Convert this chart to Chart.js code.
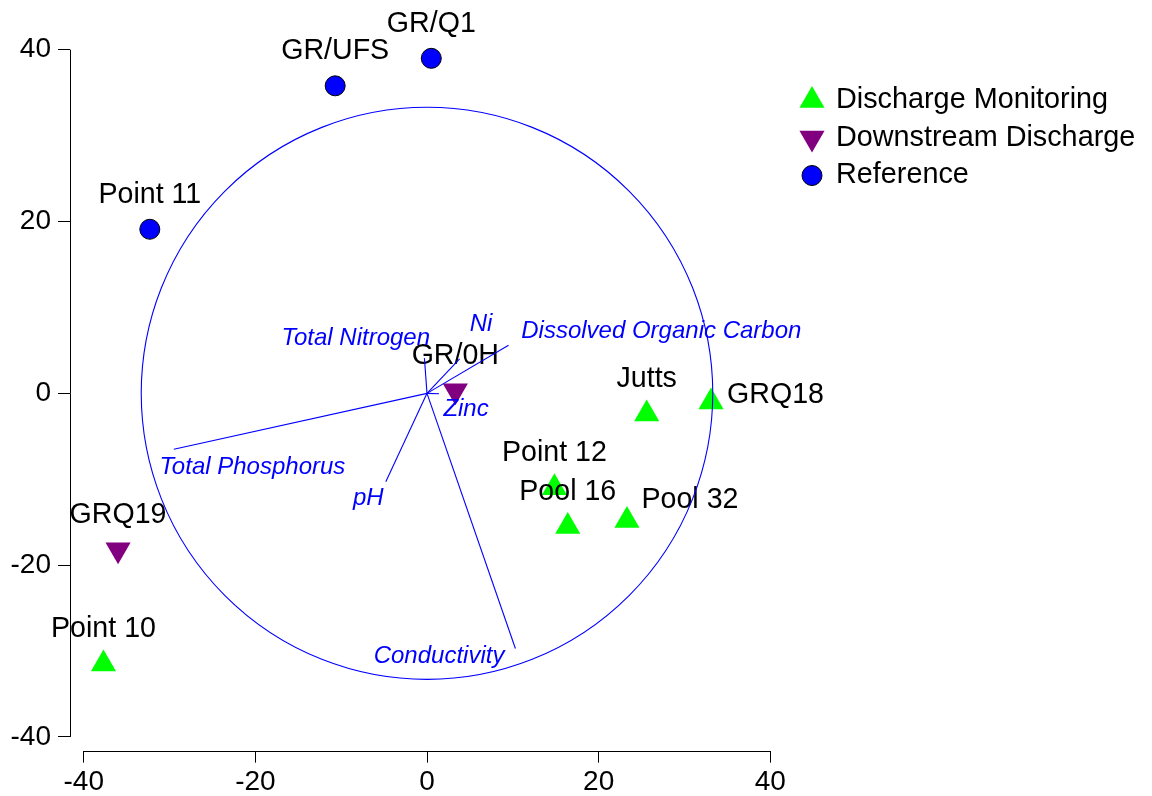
<!DOCTYPE html>
<html>
<head>
<meta charset="utf-8">
<script src="https://cdn.jsdelivr.net/npm/chart.js@4.4.1/dist/chart.umd.min.js"></script>
<style>
  html, body { margin: 0; padding: 0; background: #fff; }
</style>
</head>
<body>
<canvas id="ord" width="1152" height="796"></canvas>
<script>
// axis ticks
const xTicks = [-40, -20, 0, 20, 40];
const yTicks = [-40, -20, 0, 20, 40];

// site scores, by group
const groups = ['Discharge Monitoring', 'Downstream Discharge', 'Reference'];

const dmSites = ['Point 10', 'Point 12', 'Pool 16', 'Pool 32', 'Jutts', 'GRQ18'];
const dmX = [-37.7, 14.85, 16.4, 23.3, 25.6, 33.1];
const dmY = [-31.5, -11.0, -15.5, -14.8, -2.4, -1.0];

const ddSites = ['GRQ19', 'GR/0H'];
const ddX = [-36.0, 3.3];
const ddY = [-18.2, 0.3];

const refSites = ['Point 11', 'GR/UFS', 'GR/Q1'];
const refX = [-32.3, -10.7, 0.5];
const refY = [19.1, 35.8, 39.0];

// fitted environmental vectors (arrow tips)
const envNames = ['Total Nitrogen', 'Ni', 'Dissolved Organic Carbon', 'Zinc', 'Total Phosphorus', 'pH', 'Conductivity'];
const envX = [-0.3, 3.8, 9.5, 1.4, -29.5, -4.8, 10.3];
const envY = [4.1, 4.0, 5.6, -0.05, -6.5, -10.3, -29.7];

const circleR = 33.3;

const FONT = '"Liberation Sans", Arial, Helvetica, sans-serif';
Chart.defaults.font.family = FONT;

function pts(xs, ys) {
  return xs.map((x, i) => ({ x: x, y: ys[i] }));
}

// where the env labels sit (data units, text centre / baseline)
const envLabelAt = {
  'Total Nitrogen': [-8.3, 5.6],
  'Ni': [6.3, 7.3],
  'Dissolved Organic Carbon': [27.3, 6.45],
  'Zinc': [4.55, -2.6],
  'Total Phosphorus': [-20.35, -9.4],
  'pH': [-6.85, -13.0],
  'Conductivity': [1.4, -31.4]
};

// site label offsets (px); default is centred above the mark
const siteLabelOffset = {
  'GRQ18': { dx: 16, dy: 1, align: 'left' },
  'Pool 32': { dx: 14.5, dy: -12, align: 'left' }
};

const siteLabels = {
  id: 'siteLabels',
  afterDatasetDraw(chart, args) {
    const ds = chart.data.datasets[args.index];
    if (!ds.sites) return;
    const ctx = chart.ctx;
    const meta = chart.getDatasetMeta(args.index);
    ctx.save();
    ctx.font = '28.6px ' + FONT;
    ctx.fillStyle = '#000';
    ctx.textBaseline = 'alphabetic';
    meta.data.forEach((el, i) => {
      const name = ds.sites[i];
      const o = siteLabelOffset[name] || { dx: 0, dy: -26.5, align: 'center' };
      ctx.textAlign = o.align;
      ctx.fillText(name, el.x + o.dx, el.y + o.dy);
    });
    ctx.restore();
  }
};

const overlay = {
  id: 'overlay',
  afterDatasetsDraw(chart) {
    const ctx = chart.ctx;
    const xs = chart.scales.x, ys = chart.scales.y;
    const ca = chart.chartArea;
    ctx.save();

    // axis lines spanning first to last tick
    ctx.strokeStyle = '#000';
    ctx.lineWidth = 1;
    ctx.beginPath();
    const yb = Math.round(ca.bottom) + 0.5;
    ctx.moveTo(xs.getPixelForValue(xTicks[0]), yb);
    ctx.lineTo(xs.getPixelForValue(xTicks[xTicks.length - 1]), yb);
    const xl = Math.round(ca.left) + 0.5;
    ctx.moveTo(xl, ys.getPixelForValue(yTicks[0]));
    ctx.lineTo(xl, ys.getPixelForValue(yTicks[yTicks.length - 1]));
    ctx.stroke();

    // circle
    const cx = xs.getPixelForValue(0), cy = ys.getPixelForValue(0);
    const rx = xs.getPixelForValue(circleR) - cx;
    const ry = cy - ys.getPixelForValue(circleR);
    ctx.strokeStyle = '#0000ff';
    ctx.lineWidth = 1.1;
    ctx.beginPath();
    ctx.ellipse(cx, cy, rx, ry, 0, 0, Math.PI * 2);
    ctx.stroke();

    // env labels
    ctx.font = 'italic 24px ' + FONT;
    ctx.fillStyle = '#0000ff';
    ctx.textAlign = 'center';
    ctx.textBaseline = 'alphabetic';
    envNames.forEach(n => {
      const p = envLabelAt[n];
      ctx.fillText(n, xs.getPixelForValue(p[0]), ys.getPixelForValue(p[1]));
    });

    // legend
    const lx = 812, ly = 100.5, step = 37.5;
    ctx.font = '28.8px ' + FONT;
    ctx.fillStyle = '#000';
    ctx.textAlign = 'left';
    groups.forEach((g, i) => {
      const ds = chart.data.datasets.find(d => d.label === g);
      const y = ly + i * step;
      ctx.fillStyle = ds.backgroundColor;
      ctx.strokeStyle = ds.borderColor;
      ctx.lineWidth = ds.borderWidth;
      Chart.helpers.drawPoint(ctx, {
        pointStyle: ds.pointStyle,
        radius: ds.pointRadius,
        rotation: ds.rotation || 0,
        borderWidth: ds.borderWidth
      }, lx, y);
      ctx.fillStyle = '#000';
      ctx.fillText(g, 836, y + 7.5);
    });
    ctx.restore();
  }
};

const envSets = envNames.map((n, i) => ({
  type: 'line',
  label: n,
  data: [{ x: 0, y: 0 }, { x: envX[i], y: envY[i] }],
  borderColor: '#0000ff',
  borderWidth: 1.1,
  pointRadius: 0,
  fill: false,
  order: 1
}));

new Chart(document.getElementById('ord'), {
  type: 'scatter',
  data: {
    datasets: [
      {
        label: 'Discharge Monitoring',
        sites: dmSites,
        data: pts(dmX, dmY),
        pointStyle: 'triangle',
        pointRadius: 14.5,
        backgroundColor: '#00ff00',
        borderColor: '#00ff00',
        borderWidth: 0,
        order: 2
      },
      {
        label: 'Downstream Discharge',
        sites: ddSites,
        data: pts(ddX, ddY),
        pointStyle: 'triangle',
        rotation: 180,
        pointRadius: 14.5,
        backgroundColor: '#800080',
        borderColor: '#800080',
        borderWidth: 0,
        order: 2
      },
      {
        label: 'Reference',
        sites: refSites,
        data: pts(refX, refY),
        pointStyle: 'circle',
        pointRadius: 10,
        backgroundColor: '#0000ff',
        borderColor: '#000000',
        borderWidth: 1,
        order: 2
      }
    ].concat(envSets)
  },
  options: {
    responsive: false,
    animation: false,
    events: [],
    layout: { padding: { left: 0, top: 36, right: 368, bottom: 0 } },
    plugins: { legend: { display: false }, tooltip: { enabled: false } },
    scales: {
      x: {
        type: 'linear',
        min: -41.6,
        max: 41.6,
        afterBuildTicks: s => { s.ticks = xTicks.map(v => ({ value: v })); },
        afterFit: s => { s.height = 45.3; },
        grid: { drawOnChartArea: false, drawTicks: true, tickLength: 12, color: '#000', lineWidth: 1 },
        border: { display: false },
        ticks: { font: { size: 28 }, color: '#000', padding: 3, autoSkip: false, maxRotation: 0, callback: v => String(v) }
      },
      y: {
        type: 'linear',
        min: -41.6,
        max: 41.6,
        afterBuildTicks: s => { s.ticks = yTicks.map(v => ({ value: v })); },
        afterFit: s => { s.width = 70; },
        grid: { drawOnChartArea: false, drawTicks: true, tickLength: 12, color: '#000', lineWidth: 1 },
        border: { display: false },
        ticks: { font: { size: 28 }, color: '#000', padding: 7, autoSkip: false, callback: v => String(v) }
      }
    }
  },
  plugins: [siteLabels, overlay]
});
</script>
</body>
</html>
